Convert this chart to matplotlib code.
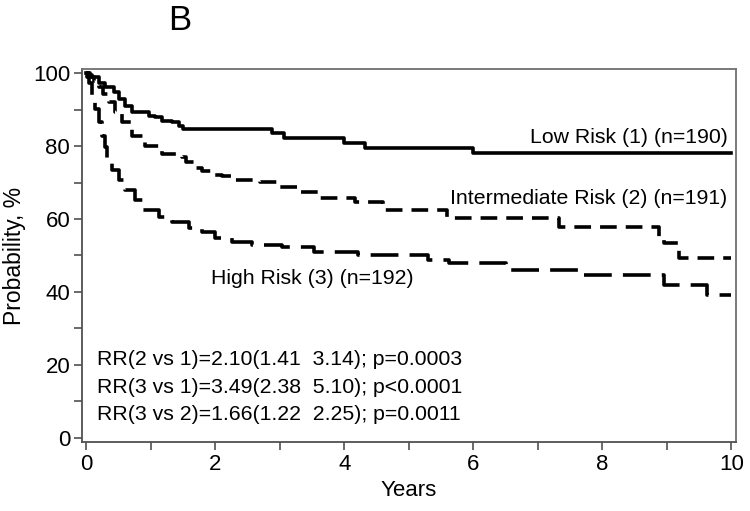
import matplotlib
matplotlib.use("Agg")
import matplotlib.pyplot as plt
from matplotlib.ticker import MultipleLocator

plt.rcParams['font.family'] = ['Liberation Sans', 'DejaVu Sans']
plt.rcParams['lines.scale_dashes'] = False

# Kaplan-Meier step data (years, probability %)
low_t = [0, 0.04, 0.09, 0.20, 0.30, 0.43, 0.51, 0.61, 0.71, 0.97, 1.07, 1.18, 1.33, 1.44, 1.51,
         2.88, 3.07, 4.00, 4.33, 6.00, 10.0]
low_p = [100, 99.5, 98.8, 97.4, 96.1, 94.7, 92.9, 91.0, 89.2, 88.2, 87.9, 86.9, 86.5, 85.6, 84.6,
         83.5, 82.1, 80.7, 79.4, 78.2, 78.2]

int_t = [0, 0.06, 0.13, 0.20, 0.27, 0.35, 0.45, 0.56, 0.71, 0.92, 1.18, 1.49, 1.55, 1.70, 1.80, 1.97,
         2.10, 2.30, 2.70, 3.00, 3.33, 3.63, 4.17, 4.60, 5.60, 7.33, 8.88, 8.95, 9.19, 10.0]
int_p = [100, 99.0, 97.8, 96.1, 94.2, 92.0, 89.2, 86.5, 82.8, 80.1, 77.8, 76.9, 75.7, 73.9, 73.2, 72.0,
         71.9, 70.7, 70.2, 68.9, 67.5, 65.7, 64.7, 62.5, 60.2, 57.9, 54.2, 53.3, 49.2, 49.2]

high_t = [0, 0.02, 0.04, 0.09, 0.14, 0.20, 0.25, 0.30, 0.33, 0.40, 0.51, 0.61, 0.76, 0.89, 1.13, 1.33,
          1.59, 1.80, 2.00, 2.26, 2.57, 3.04, 3.53, 4.22, 5.30, 5.63, 6.50, 6.56, 7.69, 8.96, 9.62, 10.0]
high_p = [100, 99.0, 97.4, 93.8, 90.1, 86.5, 82.8, 79.6, 76.2, 73.4, 70.7, 67.9, 65.2, 62.5, 60.6, 59.3,
          57.5, 56.5, 54.7, 53.8, 52.9, 52.2, 51.0, 50.1, 48.8, 47.9, 46.9, 46.0, 44.7, 41.9, 39.3, 39.3]

labels = ["Low Risk (1) (n=190)", "Intermediate Risk (2) (n=191)", "High Risk (3) (n=192)"]
rr_lines = ["RR(2 vs 1)=2.10(1.41  3.14); p=0.0003",
            "RR(3 vs 1)=3.49(2.38  5.10); p<0.0001",
            "RR(3 vs 2)=1.66(1.22  2.25); p=0.0011"]

fig = plt.figure(figsize=(7.5, 5.11), dpi=100)
W, H = 750, 511
ax = fig.add_axes([82 / W, 1 - 442 / H, (736 - 82) / W, (442 - 69) / H])

lw = 2.6
ax.plot(low_t, low_p, drawstyle='steps-post', color='black', lw=lw)
l2, = ax.plot(int_t, int_p, drawstyle='steps-post', color='black', lw=lw)
l2.set_dashes((12, 6.5))
l3, = ax.plot(high_t, high_p, drawstyle='steps-post', color='black', lw=lw)
l3.set_dashes((20, 8))

ax.set_xlim(-0.062, 10.07)
ax.set_ylim(-1.1, 101.1)

ax.xaxis.set_major_locator(MultipleLocator(2))
ax.xaxis.set_minor_locator(MultipleLocator(1))
ax.yaxis.set_major_locator(MultipleLocator(20))
ax.yaxis.set_minor_locator(MultipleLocator(10))
spine_c = '#505050'
for s in ax.spines.values():
    s.set_color(spine_c)
    s.set_linewidth(1.3)
ax.spines['top'].set_color('#707070')
ax.spines['right'].set_color('#707070')
ax.tick_params(which='both', direction='out', length=5.5, width=1.2, color=spine_c,
               labelsize=16, pad=3)

ax.set_xlabel("Years", fontsize=16, labelpad=4)
ax.set_ylabel("Probability, %", fontsize=16.5, labelpad=5)

ax.text(9.94, 82.2, labels[0], ha='right', va='center', fontsize=15.3)
ax.text(9.94, 65.7, labels[1], ha='right', va='center', fontsize=15.3)
ax.text(1.94, 43.8, labels[2], ha='left', va='center', fontsize=15.3)

for i, t in enumerate(rr_lines):
    ax.text(0.17, 21.4 - i * 7.5, t, ha='left', va='center', fontsize=15.3)

fig.text(180 / W, 1 - 21 / H, "B", ha='center', va='center', fontsize=25)

fig.savefig("out.png", dpi=100)
